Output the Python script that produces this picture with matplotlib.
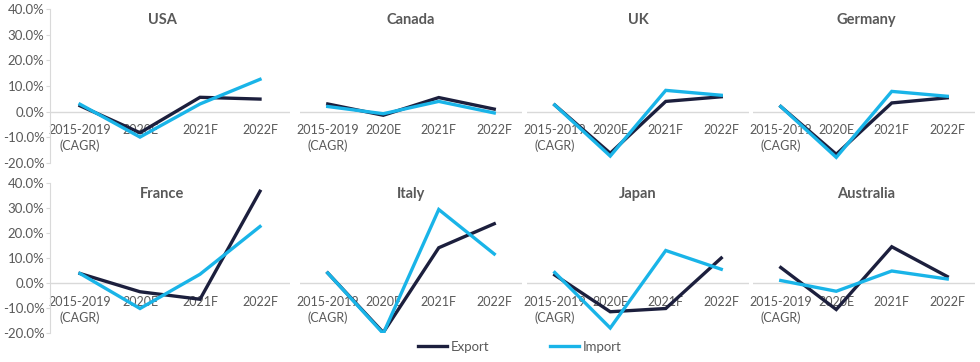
import matplotlib.pyplot as plt
from matplotlib.lines import Line2D

plt.rcParams['font.family'] = ['Lato', 'DejaVu Sans']

categories = ['2015-2019\n(CAGR)', '2020E', '2021F', '2022F']
countries = ['USA', 'Canada', 'UK', 'Germany', 'France', 'Italy', 'Japan', 'Australia']

# values in %
export_vals = {
    'USA':       [2.3, -8.2, 5.6, 4.9],
    'Canada':    [3.0, -1.4, 5.5, 1.0],
    'UK':        [2.6, -16.2, 4.0, 5.8],
    'Germany':   [2.0, -16.6, 3.4, 5.4],
    'France':    [3.8, -3.5, -6.5, 36.7],
    'Italy':     [4.0, -19.8, 14.1, 23.7],
    'Japan':     [3.2, -11.5, -10.2, 10.0],
    'Australia': [6.2, -10.6, 14.5, 2.6],
}
import_vals = {
    'USA':       [2.9, -9.9, 3.0, 12.6],
    'Canada':    [2.0, -0.8, 4.0, -0.5],
    'UK':        [2.6, -17.3, 8.3, 6.4],
    'Germany':   [2.0, -17.8, 7.9, 6.0],
    'France':    [3.8, -10.2, 3.5, 22.6],
    'Italy':     [4.0, -20.2, 29.4, 11.6],
    'Japan':     [4.2, -18.0, 13.0, 5.5],
    'Australia': [1.0, -3.3, 4.8, 1.6],
}
yticks = [-20, -10, 0, 10, 20, 30, 40]

EXPORT_C = '#1c1f3d'
IMPORT_C = '#19b4e8'
TEXT_C = '#595959'
GRID_C = '#d9d9d9'

W, H = 980, 362
fig = plt.figure(figsize=(W / 100, H / 100), dpi=100)

# panel pixel boxes: (left, right) per column, (top, bottom) per row
cols = [(50, 290), (300, 522), (527, 749), (753, 975)]
rows = [(9, 163), (183, 333)]
title_x = [162, 411, 638, 866]

for k, name in enumerate(countries):
    r, c = divmod(k, 4)
    x0, x1 = cols[c]
    t, b = rows[r]
    ax = fig.add_axes([x0 / W, 1 - b / H, (x1 - x0) / W, (b - t) / H])
    xs = range(len(categories))
    ax.plot(xs, export_vals[name], color=EXPORT_C, lw=2.4, solid_joinstyle='miter', zorder=3)
    ax.plot(xs, import_vals[name], color=IMPORT_C, lw=2.4, solid_joinstyle='miter', zorder=4)
    ax.set_xlim(-0.5, 3.5)
    ax.set_ylim(-20, 40)
    ax.axhline(0, color=GRID_C, lw=1, zorder=1)
    for s in ['top', 'right', 'bottom']:
        ax.spines[s].set_visible(False)
    ax.set_xticks([])
    for i, lab in enumerate(categories):
        ax.annotate(lab, (i, 0), xytext=(0, -9), textcoords='offset points',
                    ha='center', va='top', fontsize=9, color=TEXT_C,
                    linespacing=1.35, zorder=2)
    if c == 0:
        ax.spines['left'].set_color(GRID_C)
        ax.set_yticks(yticks)
        ax.set_yticklabels([f'{v:.1f}%' for v in yticks], fontsize=9.5, color=TEXT_C)
        ax.tick_params(axis='y', color=GRID_C, length=3, pad=1)
    else:
        ax.spines['left'].set_visible(False)
        ax.set_yticks([])
    ax.patch.set_alpha(0)
    ty = 20 if r == 0 else 194
    fig.text(title_x[c] / W, 1 - ty / H, name, ha='center', va='center',
             fontsize=10.5, fontweight='bold', color=TEXT_C)

handles = [Line2D([], [], color=EXPORT_C, lw=2.4), Line2D([], [], color=IMPORT_C, lw=2.4)]
fig.legend(handles, ['Export', 'Import'], loc='center', bbox_to_anchor=(520 / W, 1 - 347 / H),
           ncol=2, frameon=False, fontsize=9.5, labelcolor=TEXT_C,
           handlelength=2.2, handletextpad=0.3, columnspacing=4.6)

fig.savefig('out.png', dpi=100)
